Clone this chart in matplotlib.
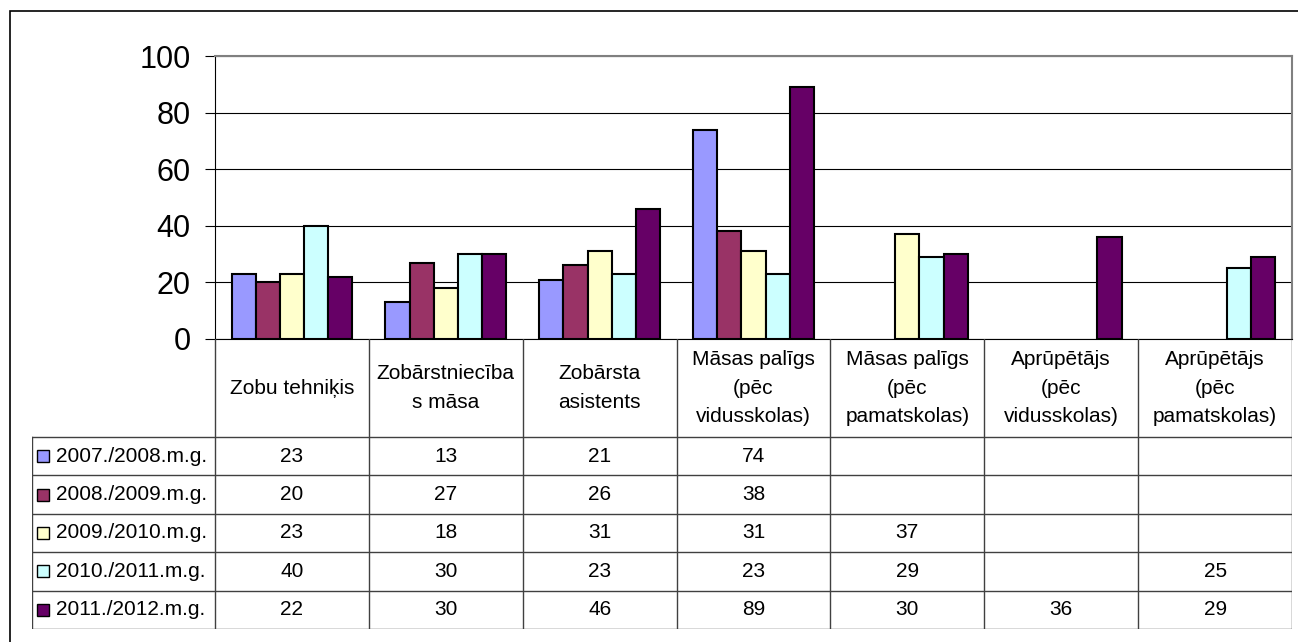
import numpy as np
import matplotlib
matplotlib.use("Agg")
import matplotlib.pyplot as plt
from matplotlib.patches import Rectangle

plt.rcParams['font.family'] = ['Liberation Sans', 'DejaVu Sans']

# data
categories = ["Zobu tehniķis", "Zobārstniecība\ns māsa", "Zobārsta\nasistents",
              "Māsas palīgs\n(pēc\nvidusskolas)", "Māsas palīgs\n(pēc\npamatskolas)",
              "Aprūpētājs\n(pēc\nvidusskolas)", "Aprūpētājs\n(pēc\npamatskolas)"]
years = ["2007./2008.m.g.", "2008./2009.m.g.", "2009./2010.m.g.",
         "2010./2011.m.g.", "2011./2012.m.g."]
nan = np.nan
v2007 = [23, 13, 21, 74, nan, nan, nan]
v2008 = [20, 27, 26, 38, nan, nan, nan]
v2009 = [23, 18, 31, 31, 37, nan, nan]
v2010 = [40, 30, 23, 23, 29, nan, 25]
v2011 = [22, 30, 46, 89, 30, 36, 29]
series = [v2007, v2008, v2009, v2010, v2011]
colors = ["#9999FF", "#993366", "#FFFFCC", "#CCFFFF", "#660066"]

W, H = 1298, 642
fig = plt.figure(figsize=(W / 100, H / 100), dpi=100)

# outer frame (cut off at right/bottom like the original)
fig.patches.append(Rectangle((10 / W, -0.05), 1.2, (H - 11) / H + 0.05,
                             transform=fig.transFigure, fill=False,
                             ec="black", lw=1.2))

# pixel layout
left_px, right_px = 215, 1292
top_px, zero_px = 56, 339
tab_left_px, tab_bottom_px = 32, 629
header_px = 98
row_px = (tab_bottom_px - zero_px - header_px) / 5

ax = fig.add_axes([left_px / W, (H - zero_px) / H,
                   (right_px - left_px) / W, (zero_px - top_px) / H])
n = len(categories)
x = np.arange(n) + 0.5
bw = 0.157
for i, (vals, c) in enumerate(zip(series, colors)):
    ax.bar(x + (i - 2) * bw, vals, width=bw, color=c, edgecolor="black",
           linewidth=1.5, zorder=3)

ax.set_xlim(0, n)
ax.set_ylim(0, 100)
ax.set_yticks([0, 20, 40, 60, 80, 100])
ax.set_xticks([])
ax.tick_params(axis="y", direction="out", length=7.5, width=0.8, pad=10,
               labelsize=22)
ax.yaxis.grid(True, color="black", lw=0.8, zorder=0)
ax.spines["left"].set_color("black")
ax.spines["bottom"].set_color("black")
ax.spines["top"].set_color("#808080")
ax.spines["right"].set_color("#808080")
ax.spines["top"].set_linewidth(1.5)
ax.spines["right"].set_linewidth(1.5)

# data table
colw = (right_px - left_px) / n
x_left = -(left_px - tab_left_px) / colw
tab_h = header_px + 5 * row_px
tax = fig.add_axes([tab_left_px / W, (H - tab_bottom_px) / H,
                    (right_px - tab_left_px) / W, tab_h / H])
tax.set_xlim(x_left, n)
tax.set_ylim(tab_h, 0)
tax.axis("off")

lc = "#404040"
fs = 15
# vertical lines in header and rows
for k in range(n + 1):
    tax.plot([k, k], [0, tab_h], color=lc, lw=1)
tax.plot([x_left, x_left], [header_px, tab_h], color=lc, lw=1)
# horizontal lines
for r in range(6):
    y = header_px + r * row_px
    tax.plot([x_left, n], [y, y], color=lc, lw=1)

for k, cat in enumerate(categories):
    tax.text(k + 0.5, header_px / 2, cat, ha="center", va="center",
             fontsize=fs, linespacing=1.62)

for r, (yr, vals, c) in enumerate(zip(years, series, colors)):
    yc = header_px + (r + 0.5) * row_px
    tax.plot([x_left + 11 / colw], [yc], marker="s", ms=8.5, mfc=c,
             mec="black", mew=1)
    tax.text(x_left + 24 / colw, yc, yr, ha="left", va="center", fontsize=fs)
    for k, v in enumerate(vals):
        if not np.isnan(v):
            tax.text(k + 0.5, yc, f"{v:g}", ha="center", va="center",
                     fontsize=fs)

fig.savefig("out.png", dpi=100)
